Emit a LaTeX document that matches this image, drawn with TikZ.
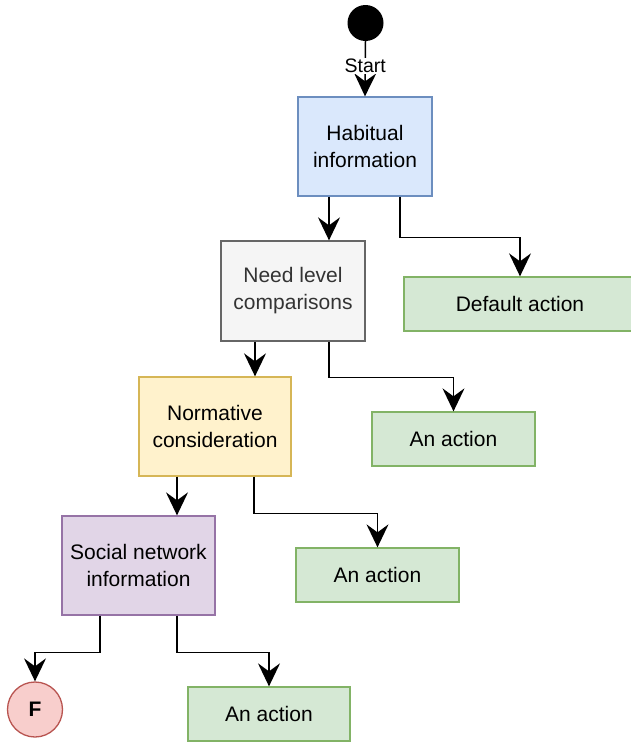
\documentclass[tikz,border=0pt]{standalone}
\usepackage{fontspec}
\setmainfont{Liberation Sans}
\usetikzlibrary{arrows.meta}
\definecolor{blueF}{HTML}{DAE8FC}\definecolor{blueD}{HTML}{6C8EBF}
\definecolor{greyF}{HTML}{F5F5F5}\definecolor{greyD}{HTML}{666666}\definecolor{greyT}{HTML}{333333}
\definecolor{greenF}{HTML}{D5E8D4}\definecolor{greenD}{HTML}{82B366}
\definecolor{yellowF}{HTML}{FFF2CC}\definecolor{yellowD}{HTML}{D6B656}
\definecolor{purpleF}{HTML}{E1D5E7}\definecolor{purpleD}{HTML}{9673A6}
\definecolor{redF}{HTML}{F8CECC}\definecolor{redD}{HTML}{B85450}
\tikzset{
  box/.style={rectangle, draw, line width=1.3pt, align=center,
    font=\fontsize{21}{27}\selectfont, inner sep=0pt},
  decision/.style={box, minimum height=99pt},
  actionbox/.style={box, fill=greenF, draw=greenD, minimum height=54pt},
  arr/.style={line width=1.5pt, -{Stealth[length=23pt, width=22pt, inset=8pt]}},
}
\begin{document}
\begin{tikzpicture}[x=1pt, y=-1pt]
  \useasboundingbox (0,0) rectangle (630,744);
  % start marker
  \node[circle, fill=black, minimum size=36pt, inner sep=0pt] (start) at (365.5,23) {};
  % decision chain
  \node[decision, fill=blueF, draw=blueD, minimum width=134pt] (hab) at (365,146.5) {Habitual\\information};
  \node[decision, fill=greyF, draw=greyD, text=greyT, minimum width=144pt, minimum height=100pt] (need) at (293,291) {Need level\\comparisons};
  \node[decision, fill=yellowF, draw=yellowD, minimum width=152pt] (norm) at (215,426.5) {Normative\\consideration};
  \node[decision, fill=purpleF, draw=purpleD, minimum width=153pt] (soc) at (138.5,565.5) {Social network\\information};
  % outcomes
  \node[actionbox, minimum width=232pt] (def) at (520,304) {Default action};
  \node[actionbox, minimum width=163pt] (act1) at (453.5,439) {An action};
  \node[actionbox, minimum width=163pt] (act2) at (377.5,575) {An action};
  \node[actionbox, minimum width=162pt] (act3) at (269,714) {An action};
  \node[circle, fill=redF, draw=redD, line width=1.3pt, minimum size=55pt, inner sep=0pt,
        font=\fontsize{21}{25}\selectfont\bfseries] (fin) at (35,709.5) {F};
  % connectors
  \draw[arr] (start.south) -- node[pos=0.45, fill=white, inner sep=1pt,
        font=\fontsize{19.5}{21}\selectfont] {Start} (hab.north);
  \draw[arr] ([xshift=-36pt]hab.south) -- ([xshift=-36pt]hab.south |- need.north);
  \draw[arr] ([xshift=35pt]hab.south) -- ++(0,41) -| (def.north);
  \draw[arr] ([xshift=-38pt]need.south) -- ([xshift=-38pt]need.south |- norm.north);
  \draw[arr] ([xshift=36pt]need.south) -- ++(0,36) -| (act1.north);
  \draw[arr] ([xshift=-38pt]norm.south) -- ([xshift=-38pt]norm.south |- soc.north);
  \draw[arr] ([xshift=39pt]norm.south) -- ++(0,37) -| (act2.north);
  \draw[arr] ([xshift=-38.5pt]soc.south) -- ++(0,37) -| (fin.north);
  \draw[arr] ([xshift=38.5pt]soc.south) -- ++(0,37) -| (act3.north);
\end{tikzpicture}
\end{document}
